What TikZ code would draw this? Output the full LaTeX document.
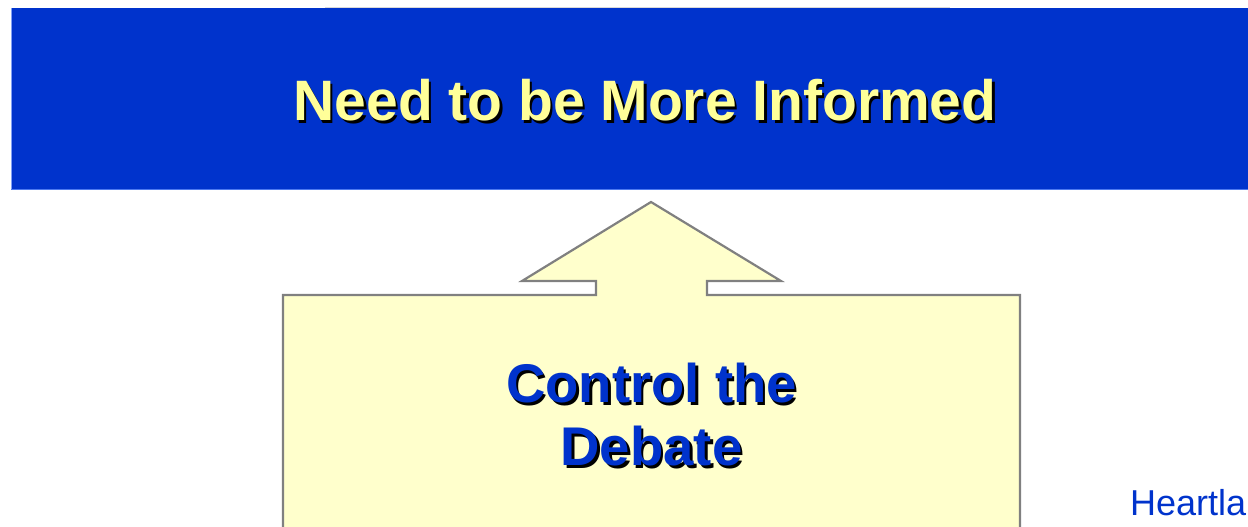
\documentclass[tikz,border=0pt]{standalone}
\usepackage{fontspec}
\setmainfont{Liberation Sans}
\definecolor{hdrblue}{HTML}{0033CC}
\definecolor{paleyellow}{HTML}{FFFFCC}
\definecolor{titleyellow}{HTML}{FFFF99}
\definecolor{edgegray}{HTML}{808080}
\definecolor{rimblue}{HTML}{4D79F0}
\newcommand{\shadowed}[1]{\makebox[0pt][l]{\kern2.5pt\raisebox{-2.5pt}{\color{black}#1}}#1}
\begin{document}
\begin{tikzpicture}[x=1pt,y=-1pt,
  titletext/.style={font=\fontsize{57}{60}\selectfont\bfseries, text=titleyellow, inner sep=0pt, anchor=base},
  boxtext/.style={font=\fontsize{54.5}{62}\selectfont\bfseries, text=hdrblue, inner sep=0pt, anchor=base},
  foottext/.style={font=\fontsize{36}{40}\selectfont, text=hdrblue, inner sep=0pt, anchor=base west}]
\useasboundingbox (0,0) rectangle (1248,527);
\begin{scope}
\clip (0,0) rectangle (1248,527);
% faint top line
\draw[line width=0.8pt, color=black!15] (325,7.5) -- (950,7.5);
% header band
\fill[hdrblue] (11,8) rectangle (1252,189);
\draw[rimblue, line width=0.8pt] (11,189) -- (1252,189);
\draw[rimblue!70, line width=0.6pt] (11,8) -- (11,189);
% block arrow body
\filldraw[fill=paleyellow, draw=edgegray, line width=2.2pt, line join=miter]
  (283,540) -- (283,295) -- (596,295) -- (596,281) -- (522,281) -- (651,202)
  -- (781,281) -- (707,281) -- (707,295) -- (1020,295) -- (1020,540);
% title
\node[titletext] (title) at (645,121) {\shadowed{Need to be More Informed}};
% box text
\node[boxtext] (boxline1) at (651.5,402.5) {\shadowed{Control the}};
\node[boxtext] (boxline2) at (651.5,465.5) {\shadowed{Debate}};
% footer
\node[foottext] (foot) at (1130,515) {Heartla};
\end{scope}
\end{tikzpicture}
\end{document}
